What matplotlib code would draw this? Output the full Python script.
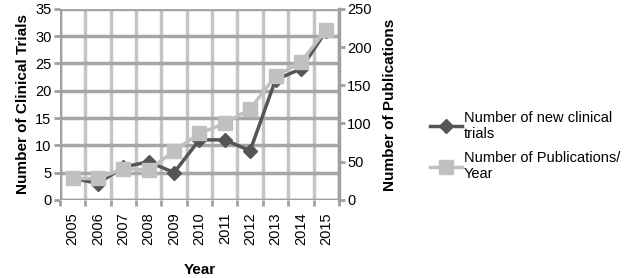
import matplotlib.pyplot as plt
import numpy as np

years = [2005, 2006, 2007, 2008, 2009, 2010, 2011, 2012, 2013, 2014, 2015]
trials = [4, 3, 6, 7, 5, 11, 11, 9, 22, 24, 31]
publications = [28, 28, 41, 39, 64, 87, 100, 119, 162, 180, 223]

plt.rcParams['font.family'] = ['Liberation Sans', 'DejaVu Sans']

fig = plt.figure(figsize=(6.3, 2.78), dpi=100)
ax = fig.add_axes([0.095, 0.281, 0.443, 0.687])
ax2 = ax.twinx()

x = np.arange(len(years))

# excel-like grid
ax.set_xlim(-0.5, len(years) - 0.5)
ax.set_ylim(0, 35)
ax.set_yticks(range(0, 36, 5))
ax.set_xticks(x)
ax.set_xticklabels([str(y) for y in years], rotation=90, fontsize=10.5)
ax.set_xticks(np.arange(-0.5, len(years)), minor=True)
ax.tick_params(axis='x', which='major', length=0, pad=9)
ax.tick_params(axis='x', which='minor', length=4, width=2, color='#a0a0a0')
ax.tick_params(axis='y', length=4, width=2, color='#a0a0a0', labelsize=10.5, pad=2)
ax.grid(True, axis='y', color='#a6a6a6', linewidth=2.5)
ax.grid(True, axis='x', which='minor', color='#c4c4c4', linewidth=2.5)
ax.set_axisbelow(True)
for s in ['top', 'right', 'bottom', 'left']:
    ax.spines[s].set_visible(False)
for s in ['top', 'bottom', 'left']:
    ax2.spines[s].set_visible(False)
ax2.spines['right'].set_color('#a0a0a0')
ax2.spines['right'].set_linewidth(2.5)
ax.axvline(-0.5, color='#a0a0a0', linewidth=2.5, zorder=1)
ax.axhline(0, color='#a0a0a0', linewidth=2.5, zorder=1)

ax2.set_ylim(0, 250)
ax2.set_yticks(range(0, 251, 50))
ax2.tick_params(axis='y', length=4, width=2, color='#a0a0a0', labelsize=10.5, pad=2)

l1, = ax.plot(x, trials, color='#555555', linewidth=2.5, marker='D', markersize=7,
              label='Number of new clinical\ntrials')
l2, = ax2.plot(x, publications, color='#c0c0c0', linewidth=2.5, marker='s', markersize=10,
               label='Number of Publications/\nYear')

ax.set_ylabel('Number of Clinical Trials', fontsize=11, fontweight='bold', labelpad=4)
ax2.set_ylabel('Number of Publications', fontsize=11, fontweight='bold', labelpad=8)
ax.set_xlabel('Year', fontsize=11, fontweight='bold', labelpad=13)

fig.legend(handles=[l1, l2], loc='center left', bbox_to_anchor=(0.662, 0.475),
           frameon=False, fontsize=10.5, handlelength=2.2, handletextpad=0.1,
           labelspacing=0.7)

fig.savefig('out.png', dpi=100)
